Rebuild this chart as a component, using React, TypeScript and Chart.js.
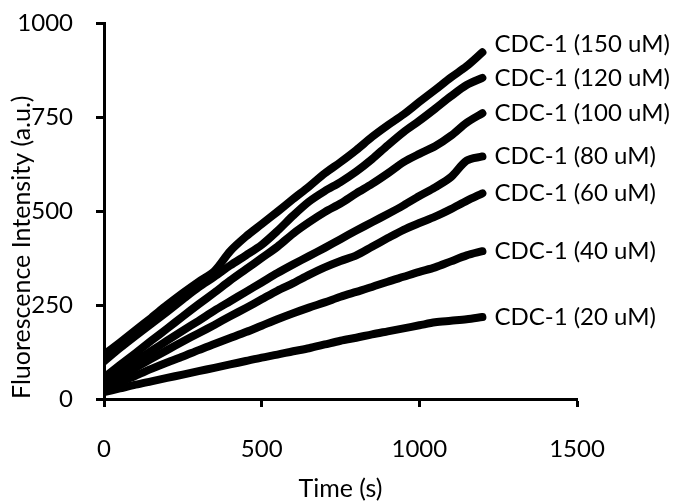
import React, { useEffect, useRef } from "react";
import { Chart, registerables } from "chart.js";

Chart.register(...registerables);

const times = [0, 50, 100, 150, 200, 250, 300, 350, 400, 450, 500, 550, 600, 650, 700, 750, 800, 850, 900, 950, 1000, 1050, 1100, 1150, 1200];

const seriesNames = [
  "CDC-1 (150 uM)",
  "CDC-1 (120 uM)",
  "CDC-1 (100 uM)",
  "CDC-1 (80 uM)",
  "CDC-1 (60 uM)",
  "CDC-1 (40 uM)",
  "CDC-1 (20 uM)",
];

const cdc150 = [118, 150, 183, 216, 250, 282, 312, 340, 393, 432, 465, 498, 532, 565, 600, 630, 662, 697, 728, 757, 790, 822, 855, 885, 922];
const cdc120 = [100, 135, 168, 200, 232, 265, 297, 325, 355, 382, 410, 447, 488, 525, 553, 577, 605, 638, 675, 710, 740, 772, 805, 835, 854];
const cdc100 = [57, 90, 122, 155, 187, 220, 252, 283, 315, 345, 375, 405, 440, 470, 497, 520, 547, 572, 600, 630, 652, 672, 700, 735, 760];
const cdc80 = [44, 73, 100, 128, 155, 182, 208, 235, 260, 285, 310, 335, 358, 380, 402, 425, 448, 470, 492, 515, 540, 563, 590, 634, 645];
const cdc60 = [34, 58, 83, 107, 130, 153, 175, 197, 220, 242, 265, 288, 308, 330, 350, 367, 382, 405, 428, 450, 468, 485, 505, 527, 547];
const cdc40 = [26, 45, 62, 80, 97, 113, 130, 146, 162, 178, 195, 212, 228, 243, 257, 272, 285, 298, 312, 325, 338, 350, 366, 382, 393];
const cdc20 = [18, 28, 38, 47, 56, 65, 74, 83, 92, 101, 110, 118, 127, 135, 145, 155, 163, 172, 180, 188, 196, 204, 208, 212, 218];

const seriesValues = [cdc150, cdc120, cdc100, cdc80, cdc60, cdc40, cdc20];

const xTicks = [0, 500, 1000, 1500];
const yTicks = [0, 250, 500, 750, 1000];

const FONT = "Lato";

const endLabels = {
  id: "endLabels",
  afterDatasetsDraw(chart: any) {
    const ctx = chart.ctx;
    const items: { x: number; y: number; text: string }[] = [];
    chart.data.datasets.forEach((ds: any, i: number) => {
      const meta = chart.getDatasetMeta(i);
      const last = meta.data[meta.data.length - 1];
      if (last) items.push({ x: last.x, y: last.y, text: ds.label });
    });
    items.sort((a, b) => b.y - a.y);
    const minGap = 34;
    let prev = Infinity;
    ctx.save();
    ctx.font = `24px ${FONT}`;
    ctx.fillStyle = "#000";
    ctx.textAlign = "left";
    ctx.textBaseline = "middle";
    items.forEach((it) => {
      let y = it.y;
      if (prev - y < minGap) y = prev - minGap;
      prev = y;
      ctx.fillText(it.text, it.x + 12, y);
    });
    ctx.restore();
  },
};

export default function App() {
  const ref = useRef<HTMLCanvasElement | null>(null);
  useEffect(() => {
    document.body.style.margin = "0";
    const canvas = ref.current!;
    const chart = new Chart(canvas, {
      type: "line",
      data: {
        datasets: seriesValues.map((vals, i) => ({
          label: seriesNames[i],
          data: vals.map((v, j) => ({ x: times[j], y: v })),
          borderColor: "#000",
          backgroundColor: "#000",
          borderWidth: 8,
          borderCapStyle: "round",
          borderJoinStyle: "round",
          pointRadius: 0,
          tension: 0.3,
          fill: false,
        })),
      },
      options: {
        animation: false,
        responsive: false,
        maintainAspectRatio: false,
        layout: { padding: { top: 23, right: 96, left: 0, bottom: 0 } },
        plugins: {
          legend: { display: false },
          tooltip: { enabled: false },
        },
        scales: {
          x: {
            type: "linear",
            min: 0,
            max: 1500,
            afterBuildTicks: (s: any) => {
              s.ticks = xTicks.map((v) => ({ value: v }));
            },
            afterFit: (s: any) => {
              s.height = 105;
              s.paddingLeft = 0;
              s.paddingRight = 0;
            },
            grid: {
              display: true,
              drawOnChartArea: false,
              drawTicks: true,
              tickLength: 8,
              tickWidth: 3,
              tickColor: "#000",
            },
            border: { display: true, color: "#000", width: 3 },
            ticks: {
              color: "#000",
              font: { family: FONT, size: 24 },
              padding: 28,
              maxRotation: 0,
              callback: (v: any) => String(v),
            },
            title: {
              display: true,
              text: "Time (s)",
              color: "#000",
              font: { family: FONT, size: 25 },
              padding: { top: 0, bottom: 0 },
            },
          },
          y: {
            type: "linear",
            min: 0,
            max: 1000,
            afterBuildTicks: (s: any) => {
              s.ticks = yTicks.map((v) => ({ value: v }));
            },
            afterFit: (s: any) => {
              s.width = 104;
              s.paddingTop = 0;
              s.paddingBottom = 0;
            },
            grid: {
              display: true,
              drawOnChartArea: false,
              drawTicks: true,
              tickLength: 8,
              tickWidth: 3,
              tickColor: "#000",
            },
            border: { display: true, color: "#000", width: 3 },
            ticks: {
              color: "#000",
              font: { family: FONT, size: 24 },
              padding: 23,
              callback: (v: any) => String(v),
            },
            title: {
              display: true,
              text: "Fluorescence Intensity (a.u.)",
              color: "#000",
              align: "start",
              font: { family: FONT, size: 25 },
              padding: { top: 7, bottom: 0 },
            },
          },
        },
      },
      plugins: [endLabels],
    });
    return () => chart.destroy();
  }, []);
  return <canvas ref={ref} width={673} height={504} style={{ display: "block" }} />;
}
